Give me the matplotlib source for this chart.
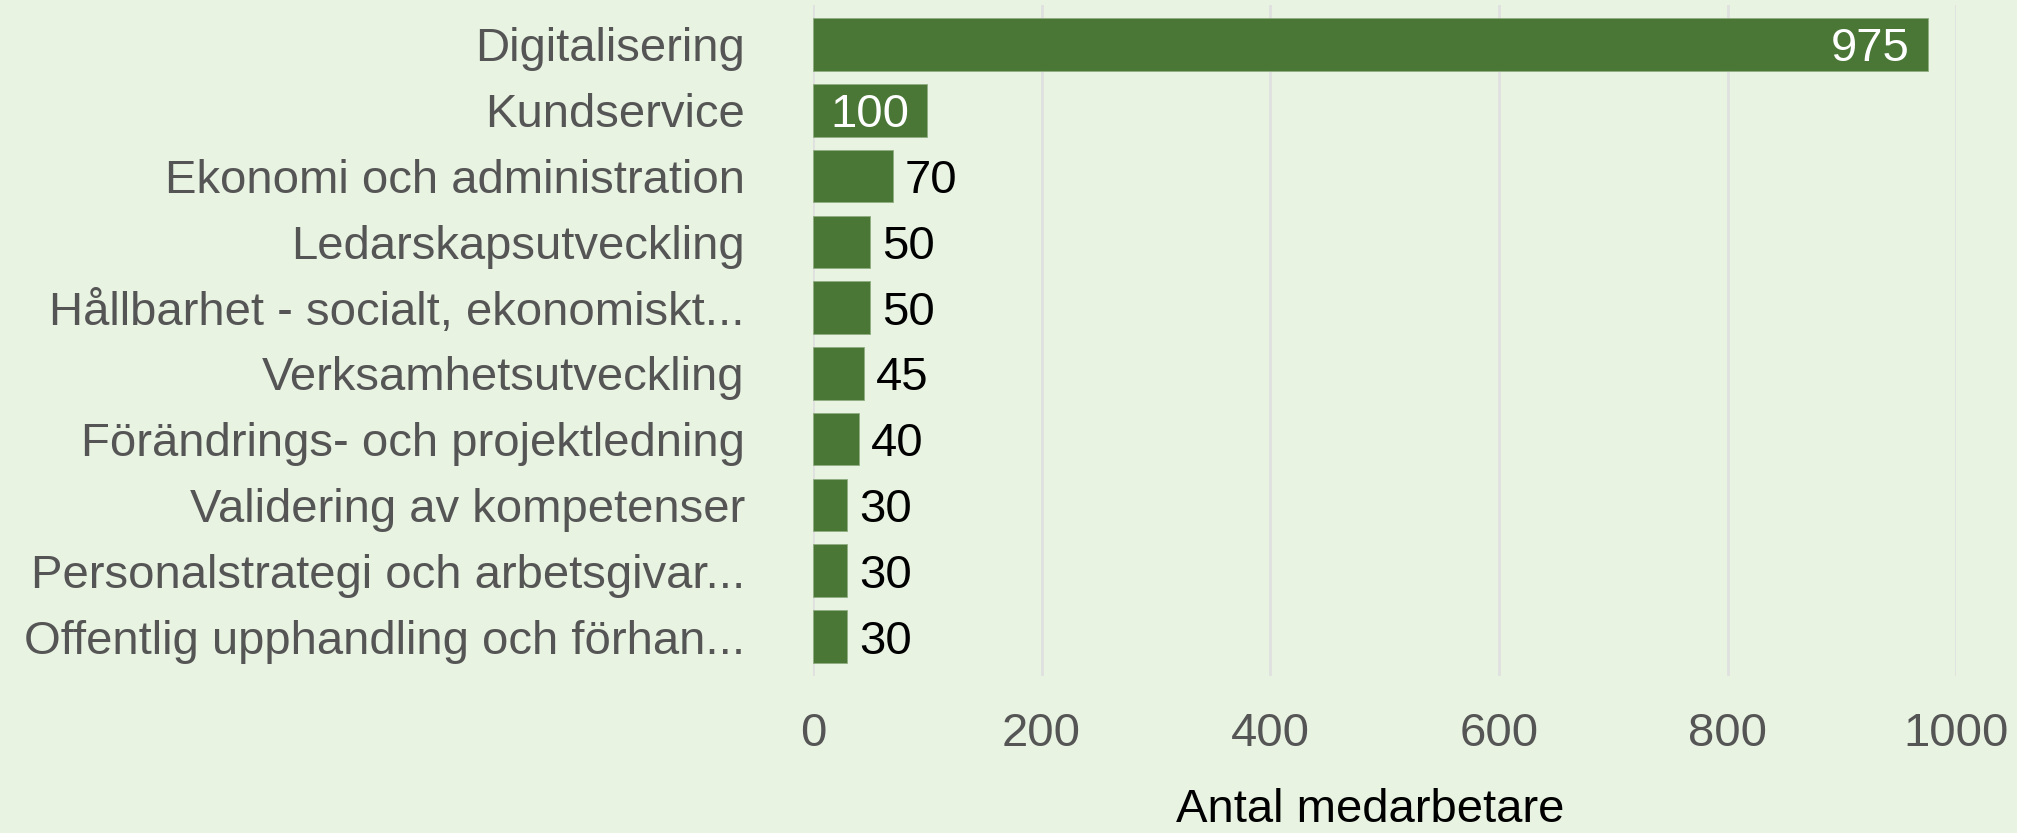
import matplotlib
matplotlib.use("Agg")
import matplotlib.pyplot as plt
from matplotlib import transforms

categories = [
    "Digitalisering",
    "Kundservice",
    "Ekonomi och administration",
    "Ledarskapsutveckling",
    "Hållbarhet - socialt, ekonomiskt...",
    "Verksamhetsutveckling",
    "Förändrings- och projektledning",
    "Validering av kompetenser",
    "Personalstrategi och arbetsgivar...",
    "Offentlig upphandling och förhan...",
]
values = [975, 100, 70, 50, 50, 45, 40, 30, 30, 30]
xticks = [0, 200, 400, 600, 800, 1000]
xlabel = "Antal medarbetare"

BG = "#e8f3e2"
BAR = "#4a7736"
FS = 34

plt.rcParams["font.family"] = ["Liberation Sans", "DejaVu Sans"]

fig = plt.figure(figsize=(20.17, 8.33), dpi=100, facecolor=BG)
ax = fig.add_axes([0.403, 0.1885, 0.567, 0.8055])
ax.set_facecolor(BG)

ypos = list(range(len(categories)))
ax.barh(ypos, values, height=0.8, color=BAR, edgecolor="#8fae80", linewidth=0.6, zorder=3)

ax.set_xlim(0, 1000)
ax.set_ylim(len(categories) - 0.4, -0.6)
ax.set_xticks(xticks)
ax.set_xticklabels([str(t) for t in xticks])
ax.set_yticks(ypos)
ax.set_yticklabels(categories)
ax.tick_params(axis="x", length=0, pad=26, labelsize=FS, labelcolor="#555555")
ax.tick_params(axis="y", length=0, pad=49, labelsize=FS, labelcolor="#555555")
ax.grid(axis="x", color="#e0e0e0", linewidth=2, zorder=0)
for s in ax.spines.values():
    s.set_visible(False)
ax.set_xlabel(xlabel, fontsize=FS, color="black", va="baseline")
ax.xaxis.set_label_coords(0.487, -0.2176)

inside_off = transforms.offset_copy(ax.transData, fig=fig, x=-18, y=0, units="dots")
outside_off = transforms.offset_copy(ax.transData, fig=fig, x=12, y=0, units="dots")
for y, v in zip(ypos, values):
    if v >= 100:
        ax.text(v, y, str(v), ha="right", va="center_baseline", fontsize=FS,
                color="white", transform=inside_off, zorder=4)
    else:
        ax.text(v, y, str(v), ha="left", va="center_baseline", fontsize=FS,
                color="black", transform=outside_off, zorder=4)

fig.savefig("out.png", dpi=100, facecolor=BG)
